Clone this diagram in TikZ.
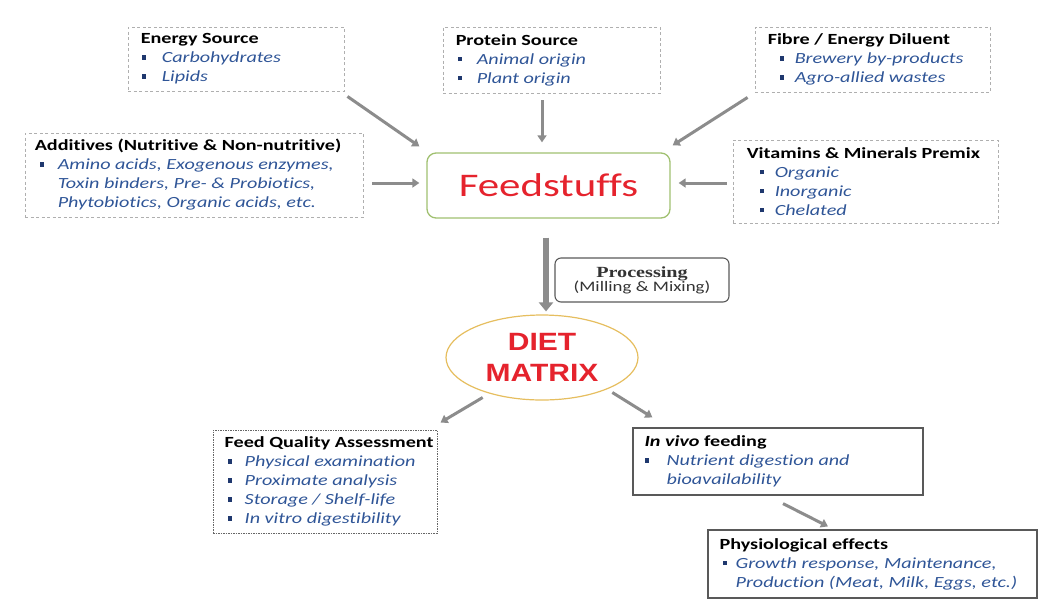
\documentclass[tikz,border=0pt]{standalone}
\usepackage{fontspec}
\setmainfont{Carlito}[FakeStretch=1.3,Ligatures=NoCommon]
\newfontfamily\procfont{Liberation Serif}[FakeStretch=1.3]
\newfontfamily\dietfont{Liberation Sans}[FakeStretch=1.2]
\usetikzlibrary{arrows.meta,shapes.geometric}
\definecolor{itc}{RGB}{47,85,151}
\definecolor{bulc}{RGB}{31,56,110}
\definecolor{arrc}{RGB}{140,140,140}
\definecolor{redc}{RGB}{229,35,45}
\definecolor{goldc}{RGB}{230,190,95}
\definecolor{greenc}{RGB}{160,192,112}
\definecolor{dashc}{RGB}{175,175,175}
\newcommand\bul{\textcolor{bulc}{\rule[0.2em]{0.28em}{0.28em}}}
\newcommand\bi[3]{\hspace*{#1pt}\makebox[#2pt][l]{\bul}{\color{itc}\itshape #3}}
\newcommand\bc[2]{\hspace*{#1pt}{\color{itc}\itshape #2}}
\begin{document}
\begin{tikzpicture}[x=1pt,y=-1pt,
  dbox/.style={draw=dashc, line width=0.9pt, dash pattern=on 3pt off 2.5pt, inner sep=0pt},
  qbox/.style={draw=black!60, line width=1pt, dash pattern=on 1.5pt off 1pt, inner sep=0pt},
  sbox/.style={draw=black!65, line width=1.2pt, inner sep=0pt},
  txt/.style={anchor=west, inner sep=0pt, align=left, font=\fontsize{15.5}{19}\selectfont},
  arr/.style={draw=arrc, line width=3pt, -{Triangle[length=7pt,width=9pt]}},
  bigarr/.style={draw=arrc, line width=6pt, -{Triangle[length=9pt,width=14pt]}}]
\useasboundingbox (0,0) rectangle (1040,606);

% boxes
\node[dbox, minimum width=216pt, minimum height=64pt] (energy) at (236,59) {};
\node[txt] (energyt) at ([xshift=13pt]energy.west) {\textbf{Energy Source}\\
  \bi{1}{20}{Carbohydrates}\\
  \bi{1}{20}{Lipids}};

\node[dbox, minimum width=217pt, minimum height=66pt] (protein) at (551.5,60) {};
\node[txt] (proteint) at ([xshift=13pt]protein.west) {\textbf{Protein Source}\\
  \bi{2}{19}{Animal origin}\\
  \bi{2}{19}{Plant origin}};

\node[dbox, minimum width=235pt, minimum height=65pt] (fibre) at (872.5,59.5) {};
\node[txt] (fibret) at ([xshift=13pt]fibre.west) {\textbf{Fibre / Energy Diluent}\\
  \bi{12}{15}{Brewery by-products}\\
  \bi{12}{15}{Agro-allied wastes}};

\node[dbox, minimum width=338pt, minimum height=84pt] (add) at (194,175) {};
\node[txt] (addt) at ([xshift=10pt]add.west) {\textbf{Additives (Nutritive \& Non-nutritive)}\\
  \bi{5}{18}{Amino acids, Exogenous enzymes,}\\
  \bc{23}{Toxin binders, Pre- \& Probiotics,}\\
  \bc{23}{Phytobiotics, Organic acids, etc.}};

\node[dbox, minimum width=265pt, minimum height=83pt] (vit) at (865.5,181.5) {};
\node[txt] (vitt) at ([xshift=14pt]vit.west) {\textbf{Vitamins \& Minerals Premix}\\
  \bi{13}{15}{Organic}\\
  \bi{13}{15}{Inorganic}\\
  \bi{13}{15}{Chelated}};

\node[draw=greenc, line width=1.3pt, rounded corners=9pt, minimum width=243pt, minimum height=65pt,
  text=redc, font=\fontsize{33}{36}\selectfont] (feed) at (548.5,185.5) {Feedstuffs};

\node[draw=black!65, line width=1.1pt, rounded corners=6pt, minimum width=174pt, minimum height=44pt,
  inner sep=0pt, align=center, text=black!80] (proc) at (642,280)
  {{\procfont\bfseries\fontsize{15.5}{16}\selectfont Processing}\\[-1pt]
   {\fontsize{14.5}{16}\selectfont (Milling \& Mixing)}};

\node[ellipse, draw=goldc, line width=1.2pt, fill=white, minimum width=192pt, minimum height=85pt,
  inner sep=0pt, align=center, text=redc, font=\dietfont\bfseries\fontsize{25}{31}\selectfont]
  (diet) at (542,357.5) {DIET\\MATRIX};

\node[qbox, minimum width=224pt, minimum height=103pt] (fqa) at (325,481.5) {};
\node[txt] (fqat) at ([xshift=12pt]fqa.west) {\textbf{Feed Quality Assessment}\\
  \bi{3}{17}{Physical examination}\\
  \bi{3}{17}{Proximate analysis}\\
  \bi{3}{17}{Storage / Shelf-life}\\
  \bi{3}{17}{In vitro digestibility}};

\node[sbox, minimum width=290pt, minimum height=67pt] (invivo) at (778,461.5) {};
\node[txt] (invivot) at ([xshift=12pt]invivo.west) {\textbf{\textit{In vivo} feeding}\\
  \bi{0}{22}{Nutrient digestion and}\\
  \bc{22}{bioavailability}};

\node[sbox, minimum width=329pt, minimum height=68pt] (physio) at (872.5,564) {};
\node[txt] (physiot) at ([xshift=12pt]physio.west) {\textbf{Physiological effects}\\
  \bi{3}{13}{Growth response, Maintenance,}\\
  \bc{16}{Production (Meat, Milk, Eggs, etc.)}};

% connectors
\draw[arr] ([shift={(3,5)}]energy.south east) -- ([shift={(-7,-6)}]feed.north west);
\draw[arr] ([shift={(-9.5,7)}]protein.south) -- ([shift={(-6.5,-10)}]feed.north);
\draw[arr] ([shift={(-7,5)}]fibre.south west) -- ([shift={(2,-7)}]feed.north east);
\draw[arr] ([shift={(9,8)}]add.east) -- ([shift={(-7,-2.5)}]feed.west);
\draw[arr] ([shift={(-6,1.5)}]vit.west) -- ([shift={(8,-2.5)}]feed.east);
\draw[bigarr] ([shift={(-2.5,19)}]feed.south) -- ([shift={(4,-3)}]diet.north);
\draw[arr] ([shift={(9,9.5)}]diet.south west) -- ([shift={(3,-7)}]fqa.north east);
\draw[arr] ([shift={(2,4.5)}]diet.south east) -- ([shift={(20,-10)}]invivo.north west);
\draw[arr] ([shift={(5,8)}]invivo.south) -- ([shift={(-44.5,-3)}]physio.north);
\end{tikzpicture}
\end{document}
